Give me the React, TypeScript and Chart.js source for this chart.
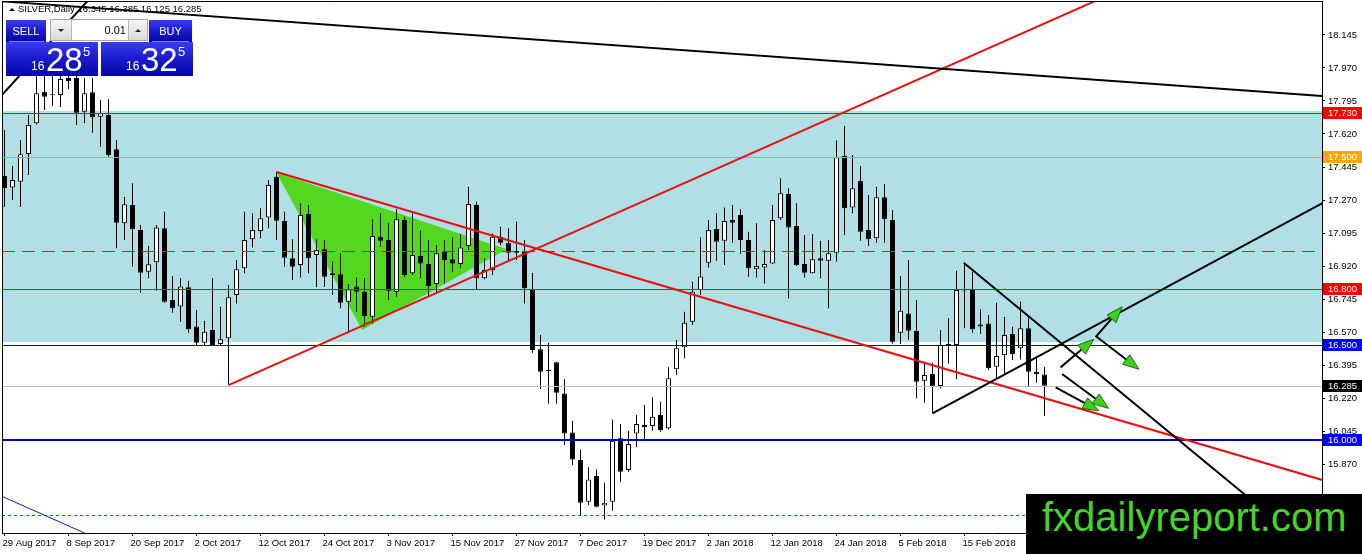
import { useEffect, useRef } from "react";
import Chart from "chart.js/auto";

// one bar per trading day, bar 0 = 29 Aug 2017, bar 130 = 1 Mar 2018
const opens = [
  17.397, 17.337, 17.367, 17.514, 17.677, 17.844, 17.83, 17.827, 17.917, 17.917,
  17.738, 17.841, 17.712, 17.721, 17.539, 17.147, 17.244, 17.111, 16.89, 16.94,
  17.12, 16.74, 16.705, 16.807, 16.599, 16.514, 16.581, 16.507, 16.537, 16.766,
  16.908, 17.062, 17.106, 17.178, 17.394, 17.159, 16.961, 16.926, 17.196, 16.979,
  17.009, 16.873, 16.876, 16.731, 16.811, 16.784, 16.651, 17.076, 17.058, 16.784,
  17.164, 16.882, 16.973, 16.931, 16.825, 16.996, 16.956, 16.931, 17.026, 17.244,
  16.855, 16.899, 17.076, 17.044, 17.0, 16.996, 16.797, 16.479, 16.362, 16.41,
  16.245, 16.038, 15.892, 15.67, 15.807, 15.651, 15.67, 16.007, 15.839, 16.033,
  16.077, 16.072, 16.13, 16.06, 16.373, 16.489, 16.625, 16.793, 16.938, 17.116,
  17.054, 17.164, 17.191, 17.058, 16.903, 16.913, 16.934, 17.173, 17.302, 17.132,
  16.931, 16.882, 16.961, 16.948, 16.991, 17.503, 17.231, 17.372, 17.111, 17.067,
  17.285, 17.164, 16.567, 16.669, 16.576, 16.312, 16.348, 16.284, 16.498, 16.502,
  16.795, 16.793, 16.61, 16.616, 16.386, 16.448, 16.56, 16.484, 16.59, 16.36,
  16.345,
];
const highs = [
  17.641, 17.45, 17.588, 17.721, 17.94, 17.95, 17.945, 17.955, 17.96, 17.95,
  17.917, 17.917, 17.8, 17.804, 17.588, 17.288, 17.359, 17.138, 17.026, 17.138,
  17.208, 16.867, 16.855, 16.842, 16.687, 16.63, 16.855, 16.704, 16.82, 16.952,
  17.208, 17.2, 17.226, 17.376, 17.42, 17.208, 17.062, 17.253, 17.244, 17.062,
  17.058, 16.943, 16.988, 16.825, 16.86, 16.855, 17.168, 17.2, 17.147, 17.221,
  17.182, 17.2, 17.107, 17.058, 17.032, 17.058, 17.072, 17.09, 17.341, 17.261,
  16.961, 17.093, 17.129, 17.12, 17.155, 17.058, 16.885, 16.554, 16.514, 16.413,
  16.32, 16.1, 15.948, 15.853, 15.842, 15.773, 16.107, 16.083, 16.047, 16.13,
  16.183, 16.224, 16.201, 16.383, 16.528, 16.678, 16.837, 17.072, 17.164, 17.2,
  17.231, 17.244, 17.221, 17.102, 17.147, 17.005, 17.244, 17.385, 17.332, 17.253,
  17.085, 17.09, 17.054, 17.058, 17.585, 17.662, 17.509, 17.45, 17.297, 17.341,
  17.355, 17.217, 16.867, 16.952, 16.74, 16.413, 16.408, 16.581, 16.643, 16.895,
  16.938, 16.89, 16.691, 16.661, 16.726, 16.651, 16.598, 16.731, 16.66, 16.44,
  16.385,
];
const lows = [
  17.233, 17.27, 17.235, 17.403, 17.67, 17.747, 17.769, 17.763, 17.857, 17.668,
  17.677, 17.627, 17.553, 17.5, 17.014, 17.058, 16.917, 16.779, 16.855, 16.789,
  16.725, 16.673, 16.625, 16.567, 16.496, 16.496, 16.496, 16.502, 16.289, 16.722,
  16.882, 17.019, 17.067, 17.12, 17.058, 16.917, 16.846, 16.86, 16.882, 16.807,
  16.81, 16.766, 16.696, 16.564, 16.678, 16.598, 16.616, 17.023, 16.74, 16.757,
  16.863, 16.873, 16.855, 16.757, 16.779, 16.828, 16.89, 16.908, 17.005, 16.793,
  16.85, 16.873, 17.032, 16.943, 16.952, 16.722, 16.461, 16.267, 16.192, 16.192,
  15.971, 15.865, 15.595, 15.653, 15.641, 15.577, 15.623, 15.777, 15.83, 15.959,
  16.001, 16.047, 16.042, 16.054, 16.342, 16.431, 16.607, 16.766, 16.913, 16.948,
  16.926, 17.044, 16.984, 16.863, 16.86, 16.828, 16.931, 17.164, 16.749, 16.92,
  16.86, 16.88, 16.855, 16.696, 16.943, 17.085, 17.2, 17.054, 17.026, 17.044,
  17.044, 16.51, 16.507, 16.528, 16.219, 16.195, 16.139, 16.272, 16.404, 16.32,
  16.59, 16.567, 16.56, 16.369, 16.325, 16.348, 16.422, 16.425, 16.284, 16.302,
  16.125,
];
const closes = [
  17.334, 17.376, 17.512, 17.668, 17.836, 17.818, 17.825, 17.912, 17.901, 17.733,
  17.836, 17.709, 17.73, 17.509, 17.15, 17.247, 17.115, 16.885, 16.929, 17.125,
  16.731, 16.696, 16.811, 16.585, 16.514, 16.572, 16.502, 16.532, 16.754, 16.903,
  17.058, 17.111, 17.173, 17.35, 17.16, 16.964, 16.916, 17.191, 16.961, 17.005,
  16.863, 16.882, 16.726, 16.797, 16.784, 16.655, 17.079, 17.054, 16.789, 17.168,
  16.872, 16.979, 16.934, 16.814, 16.988, 16.952, 16.934, 17.019, 17.249, 16.855,
  16.899, 17.076, 17.044, 16.991, 16.99, 16.802, 16.475, 16.36, 16.37, 16.248,
  16.033, 15.895, 15.665, 15.789, 15.644, 15.665, 15.994, 15.83, 15.977, 16.083,
  16.065, 16.121, 16.051, 16.325, 16.484, 16.62, 16.784, 16.864, 17.111, 17.049,
  17.159, 17.15, 17.058, 16.908, 16.92, 16.931, 17.164, 17.306, 17.125, 16.926,
  16.885, 16.956, 16.948, 16.988, 17.497, 17.226, 17.332, 17.102, 17.062, 17.285,
  17.168, 16.519, 16.683, 16.577, 16.307, 16.342, 16.28, 16.501, 16.507, 16.793,
  16.79, 16.585, 16.6, 16.378, 16.443, 16.554, 16.454, 16.59, 16.36, 16.348,
  16.285,
];

const xTickBars = [0, 8, 16, 24, 32, 40, 48, 56, 64, 72, 80, 88, 96, 104, 112, 120];
const xTickLabels = [
  "29 Aug 2017", "8 Sep 2017", "20 Sep 2017", "2 Oct 2017", "12 Oct 2017", "24 Oct 2017",
  "3 Nov 2017", "15 Nov 2017", "27 Nov 2017", "7 Dec 2017", "19 Dec 2017", "2 Jan 2018",
  "12 Jan 2018", "24 Jan 2018", "5 Feb 2018", "15 Feb 2018",
];
const yTicks = [
  18.145, 17.97, 17.795, 17.62, 17.445, 17.27, 17.095, 16.92, 16.745, 16.57, 16.395,
  16.22, 16.045, 15.87, 15.695,
];

// chart objects, in bar index / price units
const zone = [17.742, 16.519];
const levels = [17.73, 17.5, 16.8, 16.5, 16.285, 16.0];
const dashedLevel = 17.0;
const dottedLevel = 15.6;
const greenTriangle = [
  [34, 17.415],
  [44.7, 16.581],
  [62.8, 17.009],
];
const redLines = [
  [28, 16.289, 140, 18.394],
  [34, 17.419, 164.75, 15.786],
];
const blackLines = [
  [-0.3, 18.323, 164.75, 17.821],
  [-0.3, 17.827, 10.5, 18.331],
  [116, 16.139, 164.75, 17.254],
  [119.9, 16.938, 164.75, 15.369],
];
const blueLines = [[-0.3, 15.699, 10.0, 15.505]];
const arrows = [
  [132, 16.383, 136.16, 16.532],
  [136.4, 16.545, 139.7, 16.704],
  [136.4, 16.549, 141.8, 16.373],
  [132.2, 16.348, 138.0, 16.166],
  [131.4, 16.277, 136.8, 16.153],
];

const levelStyle = [
  { color: "#ff0000", width: 1, tag: "#ff0000" },
  { color: "#f0a020", width: 1, tag: "#ffa500" },
  { color: "#ff0000", width: 1, tag: "#ff0000" },
  { color: "#0000d0", width: 1, tag: "#0000ff" },
  { color: "#c0c0c0", width: 1, tag: "#000000" },
  { color: "#0000c8", width: 2, tag: "#0000ff" },
];

const FONT = '"Liberation Sans", Arial, sans-serif';

const objectsPlugin = {
  id: "mt4Objects",
  beforeDatasetsDraw(chart: any) {
    const { ctx, chartArea: a, scales } = chart;
    const x = scales.x;
    const y = scales.y;
    ctx.save();
    ctx.beginPath();
    ctx.rect(a.left, a.top, a.right - a.left, a.bottom - a.top);
    ctx.clip();
    const zt = Math.round(y.getPixelForValue(zone[0]));
    const zb = Math.round(y.getPixelForValue(zone[1]));
    ctx.fillStyle = "#b0dfe6";
    ctx.fillRect(a.left, zt, a.right - a.left, zb - zt);

    ctx.fillStyle = "#52d81e";
    ctx.beginPath();
    greenTriangle.forEach(([i, p], k) => {
      const px = x.getPixelForValue(i);
      const py = y.getPixelForValue(p);
      if (k === 0) ctx.moveTo(px, py);
      else ctx.lineTo(px, py);
    });
    ctx.closePath();
    ctx.fill();
    ctx.restore();
  },
  afterDatasetsDraw(chart: any) {
    const { ctx, chartArea: a, scales } = chart;
    const x = scales.x;
    const y = scales.y;
    ctx.save();
    ctx.beginPath();
    ctx.rect(a.left, a.top, a.right - a.left, a.bottom - a.top);
    ctx.clip();

    const hline = (p: number, color: string, width: number, dash: number[]) => {
      let py = Math.round(y.getPixelForValue(p));
      if (width % 2 === 1) py += 0.5;
      ctx.strokeStyle = color;
      ctx.lineWidth = width;
      ctx.setLineDash(dash);
      ctx.beginPath();
      ctx.moveTo(a.left, py);
      ctx.lineTo(a.right, py);
      ctx.stroke();
      ctx.setLineDash([]);
    };

    hline(dashedLevel, "#d42020", 1, [13, 7]);
    hline(dottedLevel, "#e01010", 1, [3, 3]);
    levels.forEach((p, k) => hline(p, levelStyle[k].color, levelStyle[k].width, []));

    const seg = (l: number[], color: string, width: number) => {
      ctx.strokeStyle = color;
      ctx.lineWidth = width;
      ctx.beginPath();
      ctx.moveTo(x.getPixelForValue(l[0]), y.getPixelForValue(l[1]));
      ctx.lineTo(x.getPixelForValue(l[2]), y.getPixelForValue(l[3]));
      ctx.stroke();
    };
    blueLines.forEach((l) => seg(l, "#1818b0", 1));
    redLines.forEach((l) => seg(l, "#e81010", 2));
    blackLines.forEach((l) => seg(l, "#000000", 2));

    // arrows: black shaft, green head
    arrows.forEach((l) => {
      const x1 = x.getPixelForValue(l[0]);
      const y1 = y.getPixelForValue(l[1]);
      const x2 = x.getPixelForValue(l[2]);
      const y2 = y.getPixelForValue(l[3]);
      const ang = Math.atan2(y2 - y1, x2 - x1);
      const c = Math.cos(ang);
      const s = Math.sin(ang);
      const len = 16;
      const half = 6;
      ctx.strokeStyle = "#000";
      ctx.lineWidth = 2;
      ctx.beginPath();
      ctx.moveTo(x1, y1);
      ctx.lineTo(x2 - len * c, y2 - len * s);
      ctx.stroke();
      ctx.beginPath();
      ctx.moveTo(x2, y2);
      ctx.lineTo(x2 - len * c - half * s, y2 - len * s + half * c);
      ctx.lineTo(x2 - len * c + half * s, y2 - len * s - half * c);
      ctx.closePath();
      ctx.fillStyle = "#3ed01c";
      ctx.fill();
      ctx.lineWidth = 1;
      ctx.strokeStyle = "#1a6a10";
      ctx.stroke();
    });
    ctx.restore();
  },
  afterDraw(chart: any) {
    const { ctx, chartArea: a, scales, width } = chart;
    const y = scales.y;
    ctx.save();
    ctx.strokeStyle = "#000";
    ctx.lineWidth = 1;
    ctx.beginPath();
    ctx.moveTo(a.left + 0.5, a.bottom);
    ctx.lineTo(a.left + 0.5, a.top + 0.5);
    ctx.lineTo(a.right, a.top + 0.5);
    ctx.stroke();

    ctx.font = `9.5px ${FONT}`;
    ctx.textBaseline = "middle";
    ctx.textAlign = "left";
    levels.forEach((p, k) => {
      const py = Math.round(y.getPixelForValue(p));
      ctx.fillStyle = levelStyle[k].tag;
      ctx.fillRect(a.right + 1, py - 6, width - a.right - 1, 12);
      ctx.fillStyle = "#fff";
      ctx.fillText(p.toFixed(3), a.right + 6, py + 0.5);
    });
    ctx.restore();
  },
};

const triangleCss = (dir: "up" | "down", size: number, color: string) => ({
  width: 0,
  height: 0,
  borderLeft: `${size}px solid transparent`,
  borderRight: `${size}px solid transparent`,
  [dir === "up" ? "borderBottom" : "borderTop"]: `${size}px solid ${color}`,
});

const blueFill = "linear-gradient(#3b3bf2 0%, #1c1cd0 45%, #0606a6 100%)";

function PriceBox({ left, big }: { left: number; big: string }) {
  return (
    <div style={{ position: "absolute", left, top: 42, width: 92, height: 34, background: blueFill }}>
      <span style={{ position: "absolute", left: 25, top: 18, fontSize: 12, lineHeight: 1, color: "#fff" }}>16</span>
      <span style={{ position: "absolute", left: 40, top: 1, fontSize: 33, lineHeight: 1, color: "#fff" }}>{big}</span>
      <span style={{ position: "absolute", left: 77, top: 3, fontSize: 13, lineHeight: 1, color: "#fff" }}>5</span>
    </div>
  );
}

function TradePanel() {
  const btn = {
    position: "absolute" as const,
    top: 20,
    height: 22,
    background: blueFill,
    color: "#fff",
    fontSize: 11,
    display: "flex",
    alignItems: "center",
    justifyContent: "center",
  };
  return (
    <div style={{ position: "absolute", left: 0, top: 0, fontFamily: FONT }}>
      <div style={{ position: "absolute", left: 9, top: 8, ...triangleCss("up", 3, "#000") }} />
      <div style={{ position: "absolute", left: 18, top: 3, fontSize: 9.5, lineHeight: "12px", whiteSpace: "nowrap", color: "#000" }}>
        SILVER,Daily 16.345 16.385 16.125 16.285
      </div>
      <div style={{ ...btn, left: 6, width: 40 }}>SELL</div>
      <div style={{ ...btn, left: 149, width: 43 }}>BUY</div>
      <div style={{ position: "absolute", left: 9, top: 41, width: 35, height: 1, background: "#7b7bff" }} />
      <div style={{ position: "absolute", left: 152, top: 41, width: 37, height: 1, background: "#7b7bff" }} />
      <div style={{ position: "absolute", left: 50, top: 19, width: 96, height: 20, border: "1px solid #a8a8a8", background: "#fff" }}>
        <div style={{ position: "absolute", left: 0, top: 0, width: 20, height: 20, background: "linear-gradient(#f6f6f6, #dadada)", borderRight: "1px solid #b8b8b8", display: "flex", alignItems: "center", justifyContent: "center" }}>
          <div style={triangleCss("down", 3, "#222")} />
        </div>
        <div style={{ position: "absolute", right: 21, top: 3, fontSize: 11, lineHeight: "14px", color: "#000" }}>0.01</div>
        <div style={{ position: "absolute", right: 0, top: 0, width: 18, height: 20, background: "linear-gradient(#f6f6f6, #dadada)", borderLeft: "1px solid #b8b8b8", display: "flex", alignItems: "center", justifyContent: "center" }}>
          <div style={triangleCss("up", 3, "#222")} />
        </div>
      </div>
      <PriceBox left={6} big="28" />
      <PriceBox left={101} big="32" />
    </div>
  );
}

export default function App() {
  const canvasRef = useRef<HTMLCanvasElement>(null);

  useEffect(() => {
    document.body.style.margin = "0";
    if (!canvasRef.current) return;
    Chart.defaults.font.family = FONT;
    Chart.defaults.font.size = 9.5;
    Chart.defaults.color = "#000";

    const bodyColor = (i: number) => (closes[i] >= opens[i] ? "#ffffff" : "#000000");

    const chart = new Chart(canvasRef.current, {
      type: "bar",
      data: {
        datasets: [
          {
            label: "body",
            data: opens.map((o, i) => ({ x: i, y: [o, closes[i]] })) as any,
            backgroundColor: opens.map((_, i) => bodyColor(i)),
            borderColor: "#000",
            borderWidth: 1,
            borderSkipped: false,
            barThickness: 5,
            minBarLength: 1,
            grouped: false,
            inflateAmount: 0,
            order: 0,
          },
          {
            label: "wick",
            data: lows.map((l, i) => ({ x: i, y: [l, highs[i]] })) as any,
            backgroundColor: "#000",
            borderWidth: 0,
            barThickness: 1,
            grouped: false,
            inflateAmount: 0,
            order: 1,
          },
        ],
      },
      options: {
        responsive: false,
        animation: false,
        events: [],
        layout: { padding: { left: 2, top: 1, right: 0, bottom: 0 } },
        plugins: { legend: { display: false }, tooltip: { enabled: false } },
        scales: {
          x: {
            type: "linear",
            offset: false,
            min: -0.3125,
            max: 164.6875,
            grid: { display: true, drawOnChartArea: false, drawTicks: true, tickLength: 3, color: "#000", offset: false },
            border: { display: true, color: "#000", width: 1 },
            ticks: {
              autoSkip: false,
              maxRotation: 0,
              align: "start",
              padding: 2,
              labelOffset: -2,
              color: "#000",
              callback: (_v: any, idx: number) => xTickLabels[idx],
            },
            afterBuildTicks: (s: any) => {
              s.ticks = xTickBars.map((v) => ({ value: v }));
            },
            afterFit: (s: any) => {
              s.height = 21;
              s.paddingLeft = 0;
              s.paddingRight = 0;
            },
          },
          y: {
            type: "linear",
            position: "right",
            min: 15.505,
            max: 18.325,
            grid: { display: true, drawOnChartArea: false, drawTicks: true, tickLength: 3, color: "#000" },
            border: { display: true, color: "#000", width: 1 },
            ticks: {
              padding: 3,
              color: "#000",
              callback: (v: any) => Number(v).toFixed(3),
            },
            afterBuildTicks: (s: any) => {
              s.ticks = yTicks.map((v) => ({ value: v }));
            },
            afterFit: (s: any) => {
              s.width = 40;
              s.paddingTop = 0;
              s.paddingBottom = 0;
            },
          },
        },
      },
      plugins: [objectsPlugin],
    });

    return () => chart.destroy();
  }, []);

  return (
    <div style={{ position: "fixed", left: 0, top: 0, width: 1362, height: 554, background: "#fff", overflow: "hidden", fontFamily: FONT }}>
      <canvas ref={canvasRef} width={1362} height={554} style={{ position: "absolute", left: 0, top: 0 }} />
      <TradePanel />
      <div style={{ position: "absolute", left: 1026, top: 494, width: 336, height: 60, background: "#000" }}>
        <span style={{ position: "absolute", left: 16, top: 3, fontSize: 40, lineHeight: 1, color: "#45d52a", whiteSpace: "nowrap" }}>
          fxdailyreport.com
        </span>
      </div>
    </div>
  );
}
